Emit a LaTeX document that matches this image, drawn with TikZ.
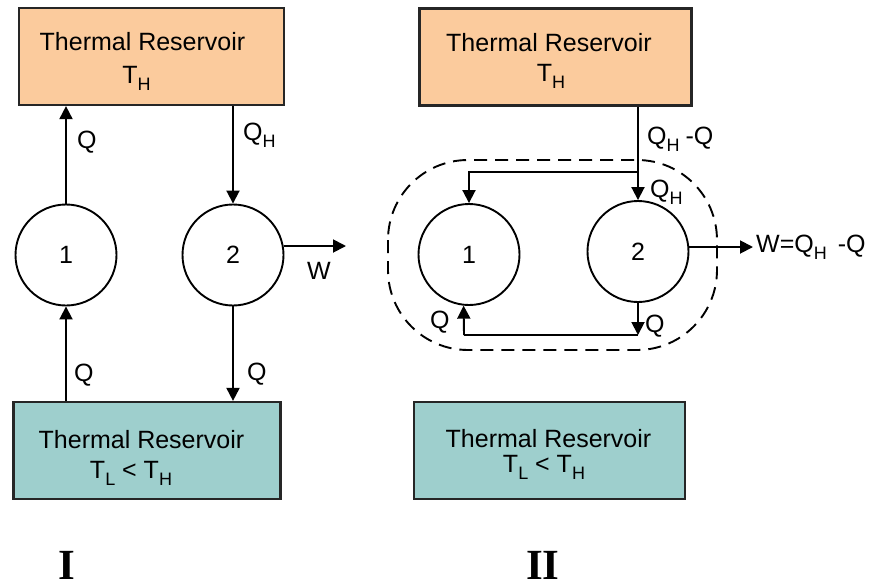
\documentclass[tikz,border=0pt]{standalone}
\usepackage{fontspec}
\setmainfont{Liberation Sans}
\newfontfamily\romanfont{Liberation Serif}
\usetikzlibrary{arrows.meta}
\newcommand\lowr[1]{\raisebox{-7pt}{\fontsize{18}{18}\selectfont #1}}
\definecolor{hot}{RGB}{251,203,157}
\definecolor{cold}{RGB}{158,207,205}
\tikzset{
  resbox/.style={draw=black!85, line width=2.2pt, minimum height=97pt, inner sep=0pt},
  boxtext/.style={font=\fontsize{25}{25}\selectfont, inner sep=0pt, anchor=base},
  engine/.style={draw, circle, line width=1.9pt, minimum size=101pt, font=\fontsize{25}{25}\selectfont, inner sep=0pt},
  arr/.style={line width=1.9pt, -{Triangle[length=13pt,width=13pt]}},
  plain/.style={line width=1.9pt},
  lbl/.style={font=\fontsize{25}{25}\selectfont, inner sep=0pt, anchor=base west},
  numeral/.style={font=\romanfont\bfseries\fontsize{43}{43}\selectfont, inner sep=0pt, anchor=base},
  boundary/.style={dashed, dash pattern=on 13pt off 8pt, line width=1.9pt, rounded corners=80pt}
}
\begin{document}
\begin{tikzpicture}[x=1pt,y=-1pt]
\useasboundingbox (0,0) rectangle (879,587);
% ---------- Panel I ----------
\node[resbox, fill=hot, minimum width=265pt] (topI) at (151.5,56.5) {};
\node[boxtext] (topIa) at (142.5,50) {Thermal Reservoir};
\node[boxtext] (topIb) at (136.5,83) {T\lowr{H}};
\node[resbox, fill=cold, minimum width=267pt] (botI) at (147,450.5) {};
\node[boxtext] (botIa) at (141.5,448) {Thermal Reservoir};
\node[boxtext] (botIb) at (131,478) {T\lowr{L} < T\lowr{H}};
\node[engine] (c1I) at (66,255) {1};
\node[engine] (c2I) at (233,255) {2};
\coordinate (wI) at (346,246);
\draw[arr] (c1I.north) -- (c1I.north |- topI.south);
\draw[arr] (c2I.north |- topI.south) -- (c2I.north);
\draw[arr] (c1I.south |- botI.north) -- (c1I.south);
\draw[arr] (c2I.south) -- (c2I.south |- botI.north);
\draw[arr] (c2I.east |- wI) -- (wI);
\node[lbl] (qIa) at (77,148) {Q};
\node[lbl] (qhI) at (243,140) {Q\lowr{H}};
\node[lbl] (qIb) at (74,381) {Q};
\node[lbl] (qIc) at (247,380) {Q};
\node[lbl] (wIl) at (307,279) {W};
\node[numeral] (nI) at (67,579) {I};
% ---------- Panel II ----------
\node[resbox, fill=hot, minimum width=272pt] (topII) at (555.5,57) {};
\node[boxtext] (topIIa) at (549,51) {Thermal Reservoir};
\node[boxtext] (topIIb) at (551,81) {T\lowr{H}};
\node[resbox, fill=cold, minimum width=271pt] (botII) at (549.5,450.5) {};
\node[boxtext] (botIIa) at (548.5,447) {Thermal Reservoir};
\node[boxtext] (botIIb) at (544,472) {T\lowr{L} < T\lowr{H}};
\node[engine] (c1II) at (469,254.5) {1};
\node[engine] (c2II) at (638,251.5) {2};
\draw[boundary] (388,160) rectangle (717,350);
\coordinate (br) at (638,172);
\coordinate (bl) at (638,335);
\coordinate (bk) at (464,335);
\coordinate (wII) at (753,247);
\draw[arr] (c2II.north |- topII.south) -- (c2II.north);
\draw[arr] (br) -| (c1II.north);
\draw[arr] (c2II.south) -- (bl);
\draw[plain] (bl) -- (bk);
\draw[arr] (bk) -- (c1II.-96);
\draw[arr] (c2II.east |- wII) -- (wII);
\node[lbl] (qhq) at (647,144) {Q\lowr{H}\hspace{6pt}-Q};
\node[lbl] (qhII) at (650,197) {Q\lowr{H}};
\node[lbl] (qII1) at (430,328) {Q};
\node[lbl] (qII2) at (645,332) {Q};
\node[lbl] (wl) at (756,252) {W=Q\lowr{H}\hspace{11pt}-Q};
\node[numeral] (nII) at (543,579) {II};
\end{tikzpicture}
\end{document}
